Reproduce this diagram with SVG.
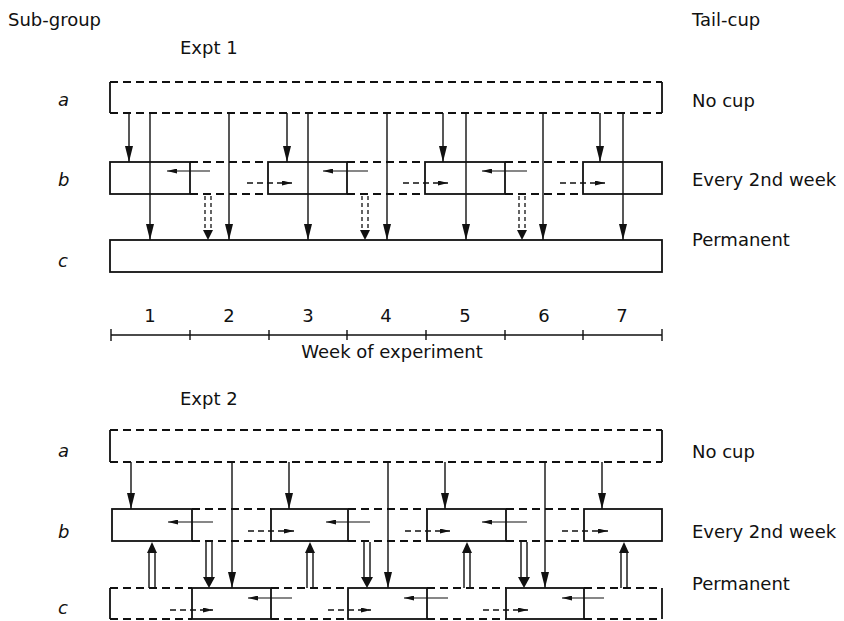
<svg xmlns="http://www.w3.org/2000/svg" width="844" height="621" viewBox="0 0 844 621">
<style>
text{font-family:"DejaVu Sans","Liberation Sans",sans-serif;font-size:18px;fill:#111}
.it{font-style:italic}
.num{text-anchor:middle}
.box{fill:none;stroke:#111;stroke-width:1.8}
.dash{fill:none;stroke:#111;stroke-width:1.8;stroke-dasharray:8 5}
.edge{fill:none;stroke:#111;stroke-width:1.8}
.arr{fill:none;stroke:#111;stroke-width:1.4;marker-end:url(#ah)}
.arrs{fill:none;stroke:#111;stroke-width:1.2;marker-end:url(#ahs)}
.arrd{fill:none;stroke:#111;stroke-width:1.4;stroke-dasharray:6 4;marker-end:url(#ahs)}
.dd{fill:none;stroke:#111;stroke-width:1.3;stroke-dasharray:4 3}
.dl{fill:none;stroke:#111;stroke-width:1.4}
.head{fill:#111;stroke:none}
.axis{fill:none;stroke:#111;stroke-width:1.4}
</style>
<defs>
<marker id="ah" viewBox="0 0 16 8" refX="16" refY="4" markerWidth="16" markerHeight="8" markerUnits="userSpaceOnUse" orient="auto">
<path d="M0,0 L16,4 L0,8 z" fill="#111"/>
</marker>
<marker id="ahs" viewBox="0 0 10 5" refX="10" refY="2.5" markerWidth="10" markerHeight="5" markerUnits="userSpaceOnUse" orient="auto">
<path d="M0,0 L10,2.5 L0,5 z" fill="#111"/>
</marker>
</defs>

<g id="labels">
<text x="8" y="26">Sub-group</text>
<text x="692" y="26">Tail-cup</text>
<text x="180" y="54">Expt 1</text>
<text x="180" y="405">Expt 2</text>
<text class="it" x="58" y="106">a</text>
<text class="it" x="58" y="186">b</text>
<text class="it" x="58" y="267">c</text>
<text class="it" x="58" y="457">a</text>
<text class="it" x="58" y="538">b</text>
<text class="it" x="58" y="614">c</text>
<text x="692" y="107">No cup</text>
<text x="692" y="186">Every 2nd week</text>
<text x="692" y="246">Permanent</text>
<text x="692" y="458">No cup</text>
<text x="692" y="538">Every 2nd week</text>
<text x="692" y="590">Permanent</text>
</g>

<!-- Expt 1 nodes -->
<g id="e1-a">
<path class="dash" d="M110,82 H662 M110,113 H662"/>
<path class="edge" d="M110,82 V113 M662,82 V113"/>
</g>
<g id="e1-b">
<path class="dash" d="M190,162 H268 M347,162 H425 M505,162 H583 M190,194 H268 M347,194 H425 M505,194 H583"/>
</g>
<g id="e1-b1"><rect class="box" x="110" y="162" width="80" height="32"/></g>
<g id="e1-b3"><rect class="box" x="268" y="162" width="79" height="32"/></g>
<g id="e1-b5"><rect class="box" x="425" y="162" width="80" height="32"/></g>
<g id="e1-b7"><rect class="box" x="583" y="162" width="79" height="32"/></g>
<g id="e1-c"><rect class="box" x="110" y="240" width="552" height="32"/></g>

<!-- axis -->
<g id="axis">
<path class="axis" d="M111,335 H662 M111,329 V341 M190,330 V340 M269,330 V340 M347,330 V340 M426,330 V340 M505,330 V340 M583,330 V340 M662,329 V341"/>
<text class="num" x="150" y="322">1</text>
<text class="num" x="229" y="322">2</text>
<text class="num" x="308" y="322">3</text>
<text class="num" x="386" y="322">4</text>
<text class="num" x="465" y="322">5</text>
<text class="num" x="544" y="322">6</text>
<text class="num" x="622" y="322">7</text>
<text x="392" y="358" text-anchor="middle">Week of experiment</text>
</g>

<!-- Expt 2 nodes -->
<g id="e2-a">
<path class="dash" d="M110,430 H662 M110,462 H662"/>
<path class="edge" d="M110,430 V462 M662,430 V462"/>
</g>
<g id="e2-b">
<path class="dash" d="M192,509 H271 M348,509 H427 M506,509 H584 M192,541 H271 M348,541 H427 M506,541 H584"/>
</g>
<g id="e2-b1"><rect class="box" x="112" y="509" width="80" height="32"/></g>
<g id="e2-b3"><rect class="box" x="271" y="509" width="77" height="32"/></g>
<g id="e2-b5"><rect class="box" x="427" y="509" width="79" height="32"/></g>
<g id="e2-b7"><rect class="box" x="584" y="509" width="78" height="32"/></g>
<g id="e2-c">
<path class="dash" d="M110,588 H192 M271,588 H348 M427,588 H506 M584,588 H662 M110,619 H192 M271,619 H348 M427,619 H506 M584,619 H662"/>
<path class="edge" d="M110,588 V619 M662,588 V619"/>
</g>
<g id="e2-c2"><rect class="box" x="192" y="588" width="79" height="31"/></g>
<g id="e2-c4"><rect class="box" x="348" y="588" width="79" height="31"/></g>
<g id="e2-c6"><rect class="box" x="506" y="588" width="78" height="31"/></g>

<g id="connectors">
<!-- Expt 1 a->b -->
<path class="arr" d="M129,113 V162"/>
<path class="arr" d="M287,113 V162"/>
<path class="arr" d="M443,113 V162"/>
<path class="arr" d="M600,113 V162"/>
<!-- Expt 1 a->c -->
<path class="arr" d="M150,113 V240"/>
<path class="arr" d="M229,113 V240"/>
<path class="arr" d="M308,113 V240"/>
<path class="arr" d="M387,113 V240"/>
<path class="arr" d="M466,113 V240"/>
<path class="arr" d="M543,113 V240"/>
<path class="arr" d="M623,113 V240"/>
<!-- Expt 1 inner arrows -->
<path class="arrs" d="M210,171 H167"/>
<path class="arrs" d="M368,171 H323"/>
<path class="arrs" d="M527,171 H482"/>
<path class="arrd" d="M247,183 H292"/>
<path class="arrd" d="M403,183 H448"/>
<path class="arrd" d="M560,183 H605"/>
<!-- Expt 1 b->c dashed double -->
<path class="dd" d="M205,196 V231 M211,196 V231"/>
<polygon class="head" points="203,230 213,230 208,240"/>
<path class="dd" d="M362,196 V231 M368,196 V231"/>
<polygon class="head" points="360,230 370,230 365,240"/>
<path class="dd" d="M519,196 V231 M525,196 V231"/>
<polygon class="head" points="517,230 527,230 522,240"/>

<!-- Expt 2 a->b -->
<path class="arr" d="M131,462 V509"/>
<path class="arr" d="M289,462 V509"/>
<path class="arr" d="M445,462 V509"/>
<path class="arr" d="M602,462 V509"/>
<!-- Expt 2 a->c -->
<path class="arr" d="M232,462 V588"/>
<path class="arr" d="M388,462 V588"/>
<path class="arr" d="M545,462 V588"/>
<!-- Expt 2 b->c double -->
<path class="dl" d="M206,542 V578 M212,542 V578"/>
<polygon class="head" points="203,577 215,577 209,588"/>
<path class="dl" d="M364,542 V578 M370,542 V578"/>
<polygon class="head" points="361,577 373,577 367,588"/>
<path class="dl" d="M521,542 V578 M527,542 V578"/>
<polygon class="head" points="518,577 530,577 524,588"/>
<!-- Expt 2 c->b double up -->
<path class="dl" d="M149,588 V552 M155,588 V552"/>
<polygon class="head" points="147,553 157,553 152,542"/>
<path class="dl" d="M307,588 V552 M313,588 V552"/>
<polygon class="head" points="305,553 315,553 310,542"/>
<path class="dl" d="M464,588 V552 M470,588 V552"/>
<polygon class="head" points="462,553 472,553 467,542"/>
<path class="dl" d="M621,588 V552 M627,588 V552"/>
<polygon class="head" points="619,553 629,553 624,542"/>
<!-- Expt 2 inner arrows b -->
<path class="arrs" d="M213,522 H168"/>
<path class="arrs" d="M370,522 H326"/>
<path class="arrs" d="M527,522 H482"/>
<path class="arrd" d="M248,531 H294"/>
<path class="arrd" d="M405,531 H450"/>
<path class="arrd" d="M562,531 H608"/>
<!-- Expt 2 inner arrows c -->
<path class="arrs" d="M292,598 H248"/>
<path class="arrs" d="M448,598 H404"/>
<path class="arrs" d="M604,598 H562"/>
<path class="arrd" d="M170,610 H213"/>
<path class="arrd" d="M328,610 H371"/>
<path class="arrd" d="M483,610 H528"/>
</g>
</svg>
